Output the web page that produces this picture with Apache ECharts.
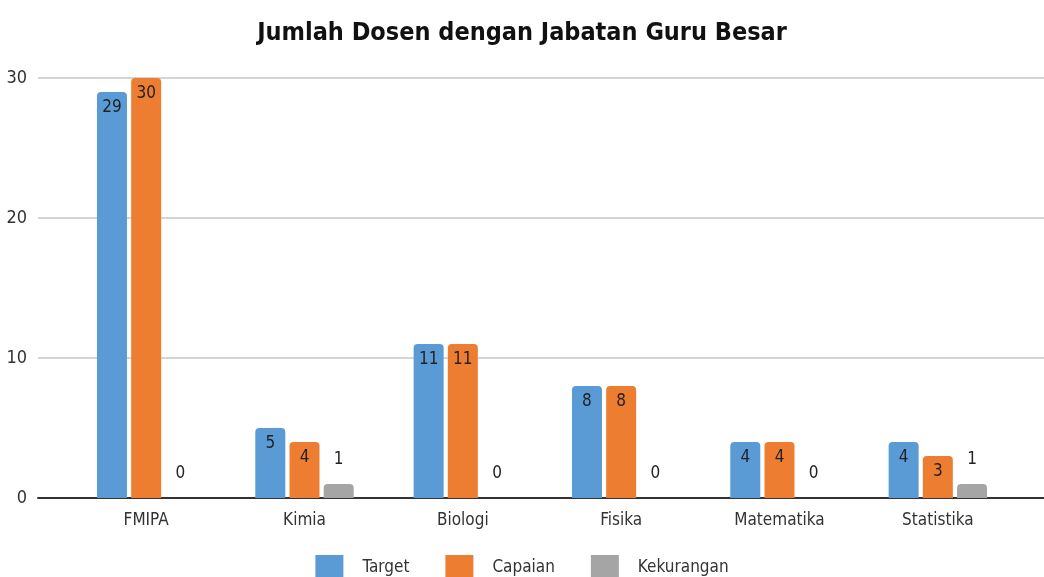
<!DOCTYPE html>
<html>
<head>
<meta charset="utf-8">
<script src="https://cdn.jsdelivr.net/npm/echarts@6/dist/echarts.min.js"></script>
<style>
  html, body { margin: 0; padding: 0; background: #fff; }
  #chart { width: 1044px; height: 577px; }
</style>
</head>
<body>
<div id="chart"></div>
<script>
var categories = ['FMIPA', 'Kimia', 'Biologi', 'Fisika', 'Matematika', 'Statistika'];
var target = [29, 5, 11, 8, 4, 4];
var capaian = [30, 4, 11, 8, 4, 3];
var kekurangan = [0, 1, 0, 0, 0, 1];
var yTicks = [0, 10, 20, 30];

var font = '"Liberation Sans Narrow", "DejaVu Sans Condensed", sans-serif';

var myChart = echarts.init(document.getElementById('chart'));

function innerLabel() {
    return {
        show: true,
        position: 'insideTop',
        distance: 7,
        color: '#222',
        fontSize: 17,
        fontFamily: font
    };
}

var option = {
    backgroundColor: '#fff',
    title: {
        text: 'Jumlah Dosen dengan Jabatan Guru Besar',
        left: 'center',
        top: 16,
        textStyle: { fontSize: 25, fontWeight: 'bold', color: '#111', fontFamily: font }
    },
    legend: {
        top: 550,
        left: 'center',
        icon: 'rect',
        itemWidth: 28,
        itemHeight: 26,
        itemGap: 36,
        textStyle: { fontSize: 17, color: '#333', fontFamily: font, padding: [0, 0, 0, 14] },
        data: ['Target', 'Capaian', 'Kekurangan']
    },
    // grid 0 holds the bars, grid 1 only draws the wide gridlines and baseline
    grid: [
        { left: 67, right: 27, top: 78, bottom: 79 },
        { left: 38, right: 0, top: 78, bottom: 79 }
    ],
    xAxis: [
        {
            type: 'category',
            data: categories,
            gridIndex: 0,
            axisTick: { show: false },
            axisLine: { show: false },
            axisLabel: { fontSize: 17, color: '#333', fontFamily: font, margin: 14 }
        },
        {
            type: 'category',
            data: [''],
            gridIndex: 1,
            axisTick: { show: false },
            axisLabel: { show: false },
            axisLine: { lineStyle: { color: '#333', width: 2 } }
        }
    ],
    yAxis: [
        {
            type: 'value',
            gridIndex: 0,
            min: yTicks[0],
            max: yTicks[yTicks.length - 1],
            interval: 10,
            axisLine: { show: false },
            axisTick: { show: false },
            splitLine: { show: false },
            axisLabel: { fontSize: 18, color: '#333', fontFamily: font, margin: 40 }
        },
        {
            type: 'value',
            gridIndex: 1,
            min: yTicks[0],
            max: yTicks[yTicks.length - 1],
            interval: 10,
            axisLine: { show: false },
            axisTick: { show: false },
            axisLabel: { show: false },
            splitLine: { lineStyle: { color: '#d4d4d4', width: 2 } }
        }
    ],
    series: [
        {
            name: 'Target', type: 'bar', data: target,
            barWidth: 30, barGap: '14%', z: 3,
            itemStyle: { color: '#5B9BD5', borderRadius: [4, 4, 0, 0] },
            label: innerLabel()
        },
        {
            name: 'Capaian', type: 'bar', data: capaian,
            barWidth: 30, barGap: '14%', z: 3,
            itemStyle: { color: '#ED7D31', borderRadius: [4, 4, 0, 0] },
            label: innerLabel()
        },
        {
            name: 'Kekurangan', type: 'bar', data: kekurangan,
            barWidth: 30, barGap: '14%', z: 3,
            itemStyle: { color: '#A5A5A5', borderRadius: [4, 4, 0, 0] },
            label: {
                show: true, position: 'top', distance: 16,
                color: '#222', fontSize: 17, fontFamily: font
            }
        }
    ]
};

myChart.setOption(option);
</script>
</body>
</html>
